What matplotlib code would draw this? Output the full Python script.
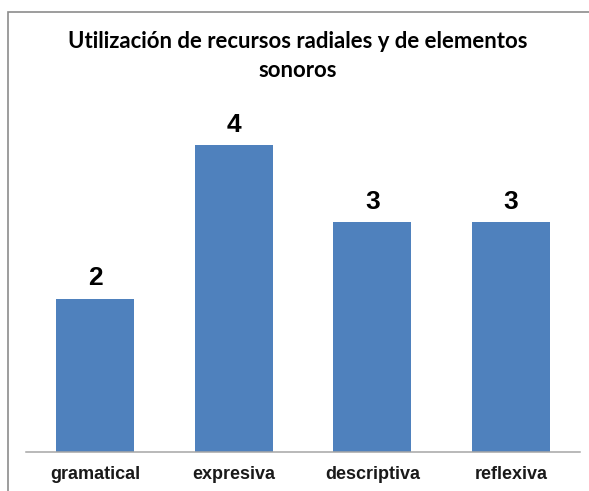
import matplotlib
matplotlib.use("Agg")
import matplotlib.pyplot as plt
from matplotlib.patches import Rectangle

# Data
categorias = ["gramatical", "expresiva", "descriptiva", "reflexiva"]
valores = [2, 4, 3, 3]
titulo = "Utilización de recursos radiales y de elementos\nsonoros"

W, H = 589, 491
fig = plt.figure(figsize=(W / 100, H / 100), dpi=100)
fig.patch.set_facecolor("white")

# outer chart border (cut at right and bottom as in the original)
fig.patches.append(Rectangle((8 / W, -0.1), 1.2, 1 - 12 / H + 0.1,
                             transform=fig.transFigure, fill=False,
                             edgecolor="#8c8c8c", linewidth=1.2))

# plot area
px_unit = 76.7
ymax = 5
left, right, base = 26, 580, 452
ax = fig.add_axes([left / W, 1 - base / H, (right - left) / W, ymax * px_unit / H])
ax.set_facecolor("none")

x = range(len(categorias))
bars = ax.bar(x, valores, width=0.565, color="#4f81bd")
ax.set_xlim(-0.5, len(categorias) - 0.5)
ax.set_ylim(0, ymax)

for b, v in zip(bars, valores):
    ax.annotate(str(v), (b.get_x() + b.get_width() / 2, v), xytext=(0, 9.5),
                textcoords="offset points", ha="center", va="baseline",
                fontsize=19, fontweight="bold", family="Liberation Sans", color="black")

for s in ["top", "right", "left"]:
    ax.spines[s].set_visible(False)
ax.spines["bottom"].set_color("#a6a6a6")
ax.spines["bottom"].set_linewidth(1.1)
ax.set_yticks([])
ax.set_xticks(list(x))
ax.set_xticklabels(categorias, fontsize=13, fontweight="bold", family="Liberation Sans",
                   color="#1a1a1a")
ax.tick_params(axis="x", length=0, pad=10)

# title: two lines, baseline of the last line at y=77 px
fig.text(298 / W, 1 - 77 / H, titulo, ha="center", va="baseline", fontsize=15.9,
         fontweight="bold", family="Lato", color="black", linespacing=1.46)

fig.savefig("out.png", dpi=100, facecolor="white")
